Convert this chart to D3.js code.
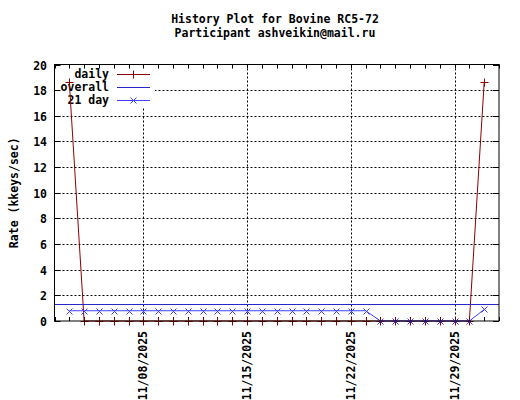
<!DOCTYPE html>
<html>
<head>
<meta charset="utf-8">
<script src="https://cdn.jsdelivr.net/npm/d3@7"></script>
<style>
  body { margin: 0; background: #fff; }
  svg text { font-family: "DejaVu Sans Mono", monospace; font-weight: bold; font-size: 11.5px; fill: #000; }
</style>
</head>
<body>
<script>
// data
var days = ["2025-11-03","2025-11-04","2025-11-05","2025-11-06","2025-11-07","2025-11-08","2025-11-09",
            "2025-11-10","2025-11-11","2025-11-12","2025-11-13","2025-11-14","2025-11-15","2025-11-16",
            "2025-11-17","2025-11-18","2025-11-19","2025-11-20","2025-11-21","2025-11-22","2025-11-23",
            "2025-11-24","2025-11-25","2025-11-26","2025-11-27","2025-11-28","2025-11-29","2025-11-30",
            "2025-12-01"];
var daily = [18.6,0,0,0,0,0,0,0,0,0,0,0,0,0,0,0,0,0,0,0,0,0,0,0,0,0,0,0,18.6];
var avg21 = [0.8,0.8,0.8,0.8,0.8,0.8,0.8,0.8,0.8,0.8,0.8,0.8,0.8,0.8,0.8,0.8,0.8,0.8,0.8,0.8,0.8,
             0,0,0,0,0,0,0,0.9];
var overall = 1.3;
var yTicks = [0,2,4,6,8,10,12,14,16,18,20];
var dateTicks = ["2025-11-08","2025-11-15","2025-11-22","2025-11-29"];
var seriesNames = ["daily","overall","21 day"];

var W = 520, H = 400,
    L = 54.5, R = 499, T = 64.5, B = 321;
var parse = d3.utcParse("%Y-%m-%d"),
    fmt = d3.utcFormat("%m/%d/%Y");
var red = "#8b0000", dblue = "#2828c8", blue = "#4040ff";

var x = d3.scaleUtc().domain([parse("2025-11-02"), parse("2025-12-02")]).range([L, R]);
var y = d3.scaleLinear().domain([0, 20]).range([B, T]);

var svg = d3.select("body").append("svg").attr("width", W).attr("height", H);

// title
svg.append("text").attr("x", 275).attr("y", 23).attr("text-anchor", "middle").text("History Plot for Bovine RC5-72");
svg.append("text").attr("x", 275).attr("y", 37).attr("text-anchor", "middle").text("Participant ashveikin@mail.ru");

// grid
var grid = svg.append("g").attr("stroke", "#000").attr("stroke-dasharray", "2,2").attr("stroke-width", 1);
yTicks.filter(function(d) { return d > 0 && d < 20; }).forEach(function(d) {
    grid.append("line").attr("x1", L).attr("x2", R).attr("y1", Math.round(y(d)) + 0.5).attr("y2", Math.round(y(d)) + 0.5);
});
dateTicks.forEach(function(d) {
    var px = Math.round(x(parse(d))) + 0.5;
    grid.append("line").attr("x1", px).attr("x2", px).attr("y1", T).attr("y2", B);
});

// key background hides the grid there
svg.append("rect").attr("x", L + 0.5).attr("y", T + 0.5).attr("width", 100).attr("height", 42).attr("fill", "#fff");

// minor ticks, one per day
var allDays = d3.utcDay.range(parse("2025-11-02"), parse("2025-12-03"));
var ticks = svg.append("g").attr("stroke", "#000");
allDays.forEach(function(d) {
    var px = Math.round(x(d)) + 0.5;
    ticks.append("line").attr("x1", px).attr("x2", px).attr("y1", T).attr("y2", T + 4);
    ticks.append("line").attr("x1", px).attr("x2", px).attr("y1", B).attr("y2", B - 4);
});
yTicks.forEach(function(d) {
    var py = Math.round(y(d)) + 0.5;
    ticks.append("line").attr("x1", L).attr("x2", L + 6).attr("y1", py).attr("y2", py);
    ticks.append("line").attr("x1", R).attr("x2", R - 6).attr("y1", py).attr("y2", py);
    svg.append("text").attr("x", 47).attr("y", py + 4).attr("text-anchor", "end").text(d);
});

// date labels
dateTicks.forEach(function(d) {
    var px = x(parse(d));
    svg.append("text")
        .attr("transform", "translate(" + (px + 4) + "," + 331 + ") rotate(-90)")
        .attr("text-anchor", "end")
        .text(fmt(parse(d)));
});

// axis label
svg.append("text")
    .attr("transform", "translate(18," + ((T + B) / 2) + ") rotate(-90)")
    .attr("text-anchor", "middle")
    .text("Rate (kkeys/sec)");

// key
var keyY = [74, 87, 100];
var keyCol = [red, dblue, blue];
seriesNames.forEach(function(n, i) {
    svg.append("text").attr("x", 109).attr("y", keyY[i] + 4).attr("text-anchor", "end").text(n);
    svg.append("line").attr("x1", 117).attr("x2", 150).attr("y1", keyY[i] + 0.5).attr("y2", keyY[i] + 0.5)
        .attr("stroke", keyCol[i]);
});

function plus(g, cx, cy, c) {
    g.append("path").attr("d", "M" + (cx - 4) + "," + cy + "H" + (cx + 4) + "M" + cx + "," + (cy - 4) + "V" + (cy + 4))
        .attr("stroke", c).attr("fill", "none");
}
function cross(g, cx, cy, c) {
    g.append("path").attr("d", "M" + (cx - 3) + "," + (cy - 3) + "L" + (cx + 3) + "," + (cy + 3) +
        "M" + (cx - 3) + "," + (cy + 3) + "L" + (cx + 3) + "," + (cy - 3))
        .attr("stroke", c).attr("fill", "none");
}
plus(svg, 133.5, keyY[0] + 0.5, red);
cross(svg, 133.5, keyY[2] + 0.5, blue);

// series
var pts = days.map(function(d, i) { return { t: parse(d), d: daily[i], a: avg21[i] }; });
var line = d3.line().x(function(p) { return x(p.t); });

svg.append("path").datum(pts)
    .attr("d", line.y(function(p) { return y(p.d); }))
    .attr("fill", "none").attr("stroke", red);
var gd = svg.append("g");
pts.forEach(function(p) { plus(gd, Math.round(x(p.t)) + 0.5, Math.round(y(p.d)) + 0.5, red); });

svg.append("line").attr("x1", L).attr("x2", R)
    .attr("y1", Math.round(y(overall)) + 0.5).attr("y2", Math.round(y(overall)) + 0.5)
    .attr("stroke", dblue);

svg.append("path").datum(pts)
    .attr("d", line.y(function(p) { return y(p.a); }))
    .attr("fill", "none").attr("stroke", blue);
var ga = svg.append("g");
pts.forEach(function(p) { cross(ga, Math.round(x(p.t)) + 0.5, Math.round(y(p.a)) + 0.5, blue); });

// frame
svg.append("rect").attr("x", L).attr("y", T).attr("width", R - L).attr("height", B - T)
    .attr("fill", "none").attr("stroke", "#000");
</script>
</body>
</html>
